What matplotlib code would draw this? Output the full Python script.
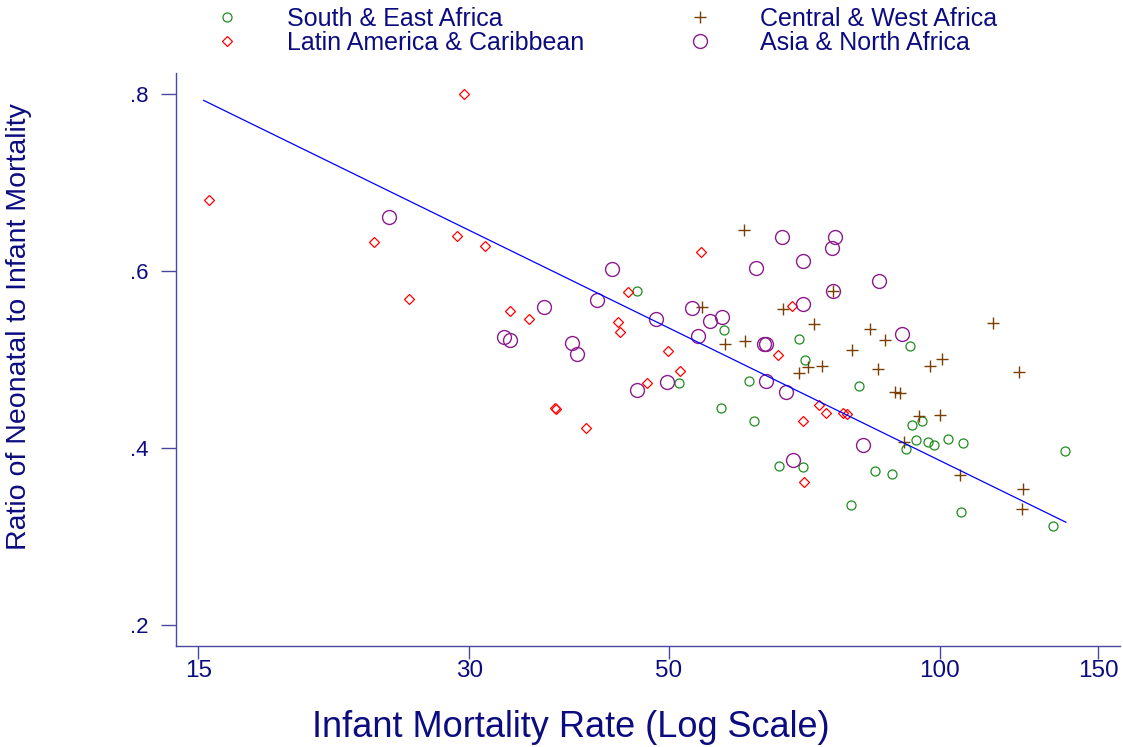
import matplotlib
matplotlib.use("Agg")
import matplotlib.pyplot as plt
from matplotlib.ticker import FixedLocator, FixedFormatter, NullLocator

plt.rcParams['font.family'] = ['Liberation Sans', 'DejaVu Sans']

# South & East Africa
se_imr = [46.1, 57.5, 51.3, 61.4, 69.7, 57.1, 62.2, 66.2, 70.8, 81.3, 92.7, 93.0, 95.6,
          91.6, 94.0, 96.9, 98.6, 102.1, 106.1, 137.7, 70.4, 84.7, 88.4, 79.7, 105.4, 133.6]
se_ratio = [0.578, 0.533, 0.473, 0.476, 0.523, 0.445, 0.430, 0.380, 0.499, 0.470, 0.515, 0.426, 0.431,
            0.399, 0.409, 0.407, 0.403, 0.410, 0.406, 0.397, 0.378, 0.374, 0.370, 0.335, 0.327, 0.312]

# Central & West Africa
cw_imr = [54.4, 60.5, 57.7, 60.8, 67.0, 76.1, 72.5, 83.6, 86.9, 114.6, 79.9, 71.4, 69.8,
          74.0, 85.3, 97.5, 100.4, 122.3, 89.2, 90.3, 94.7, 100.1, 91.3, 105.2, 123.6, 123.4]
cw_ratio = [0.559, 0.646, 0.518, 0.521, 0.557, 0.577, 0.540, 0.534, 0.522, 0.541, 0.511, 0.491, 0.485,
            0.493, 0.489, 0.493, 0.500, 0.486, 0.463, 0.462, 0.436, 0.437, 0.407, 0.369, 0.353, 0.331]

# Latin America & Caribbean
la_imr = [29.6, 15.4, 23.5, 29.1, 31.2, 25.7, 33.3, 34.9, 45.0, 43.9, 44.1, 49.9, 51.4,
          47.2, 37.3, 37.4, 40.4, 54.2, 66.0, 68.4, 73.3, 74.8, 78.1, 78.8, 70.5, 70.7]
la_ratio = [0.800, 0.680, 0.633, 0.640, 0.628, 0.568, 0.555, 0.546, 0.576, 0.542, 0.531, 0.510, 0.487,
            0.473, 0.445, 0.444, 0.422, 0.621, 0.505, 0.561, 0.449, 0.440, 0.440, 0.438, 0.430, 0.362]

# Asia & North Africa
an_imr = [24.4, 36.3, 41.6, 32.8, 33.3, 39.0, 39.5, 43.2, 48.4, 49.7, 46.1, 53.0, 66.8, 62.4, 55.5,
          57.2, 53.9, 63.8, 64.1, 64.0, 67.4, 70.4, 70.4, 68.6, 76.4, 75.9, 85.5, 76.1, 90.7, 82.1]
an_ratio = [0.661, 0.559, 0.567, 0.525, 0.522, 0.519, 0.506, 0.602, 0.546, 0.474, 0.465, 0.558, 0.638, 0.603, 0.544,
            0.548, 0.527, 0.518, 0.518, 0.476, 0.463, 0.563, 0.611, 0.386, 0.639, 0.626, 0.589, 0.577, 0.529, 0.403]

# fitted line (ratio on log IMR)
fit_imr = [15.2, 138.0]
fit_ratio = [0.793, 0.316]

xticks = [15, 30, 50, 100, 150]
yticks = [0.2, 0.4, 0.6, 0.8]
ytick_labels = [".2", ".4", ".6", ".8"]

navy = "#0c0c80"
axcol = "#4848a0"

fig = plt.figure(figsize=(11.23, 7.47), dpi=100)
ax = fig.add_axes([0.1567, 0.1352, 0.8406, 0.7671])

ax.plot(se_imr, se_ratio, linestyle="none", marker="o", ms=6.5, mfc="none", mec="#1f8c1f",
        mew=0.9, label="South & East Africa")
ax.plot(cw_imr, cw_ratio, linestyle="none", marker="+", ms=8, mec="#7a3f00",
        mew=1.0, label="Central & West Africa")
ax.plot(la_imr, la_ratio, linestyle="none", marker="D", ms=5, mfc="none", mec="#ff0000",
        mew=0.9, label="Latin America & Caribbean")
ax.plot(an_imr, an_ratio, linestyle="none", marker="o", ms=10, mfc="none", mec="#8b1a8b",
        mew=1.0, label="Asia & North Africa")
ax.plot(fit_imr, fit_ratio, color="#0000ff", lw=0.9)

ax.set_xscale("log")
ax.set_xlim(14.16, 158.5)
ax.set_ylim(0.176, 0.824)
ax.xaxis.set_major_locator(FixedLocator(xticks))
ax.xaxis.set_major_formatter(FixedFormatter([str(t) for t in xticks]))
ax.xaxis.set_minor_locator(NullLocator())
ax.set_yticks(yticks)
ax.set_yticklabels(ytick_labels)

for s in ["top", "right"]:
    ax.spines[s].set_visible(False)
for s in ["left", "bottom"]:
    ax.spines[s].set_color(axcol)
    ax.spines[s].set_linewidth(1.0)

ax.tick_params(axis="y", length=10.6, width=1, color=axcol, labelcolor=navy, labelsize=16, pad=9)
ax.tick_params(axis="x", length=9.4, width=1, color=axcol, labelcolor=navy, labelsize=17.5, pad=0.5)

ax.set_xlabel("Infant Mortality Rate (Log Scale)", fontsize=26, color=navy)
ax.xaxis.set_label_coords(0.418, -0.111)
ax.set_ylabel("Ratio of Neonatal to Infant Mortality", fontsize=20.5, color=navy)
ax.yaxis.set_label_coords(-0.152, 0.557)

handles, labels = ax.get_legend_handles_labels()
order = [0, 2, 1, 3]
fig.legend([handles[i] for i in order], [labels[i] for i in order],
           loc="upper left", bbox_to_anchor=(0.1754, 1.0147), ncol=2, frameon=False,
           fontsize=18, labelcolor=navy, handlelength=1.0, handletextpad=1.9,
           columnspacing=4.15, labelspacing=0.02, borderpad=0.2)

fig.savefig("out.png", dpi=100)
